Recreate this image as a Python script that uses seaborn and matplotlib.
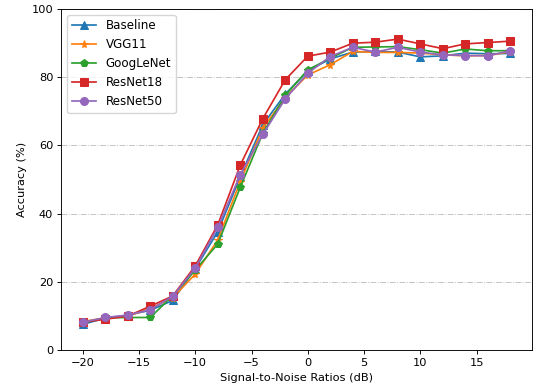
import matplotlib
matplotlib.use("Agg")
import matplotlib.pyplot as plt
import seaborn as sns
import pandas as pd

snr = [-20, -18, -16, -14, -12, -10, -8, -6, -4, -2, 0, 2, 4, 6, 8, 10, 12, 14, 16, 18]

baseline = [7.6, 9.4, 10.3, 11.7, 14.6, 23.9, 34.7, 50.8, 66.0, 75.0, 81.8, 85.3, 87.3, 87.5, 87.3, 85.9, 86.2, 87.0, 86.8, 86.9]
vgg11 = [8.4, 9.5, 10.0, 12.2, 15.4, 22.3, 32.3, 49.4, 65.0, 74.0, 80.6, 83.6, 87.5, 87.2, 87.2, 87.0, 86.5, 86.2, 86.3, 87.4]
googlenet = [8.0, 9.5, 9.6, 9.6, 16.0, 23.5, 31.1, 47.7, 63.5, 74.6, 82.1, 85.5, 88.7, 88.8, 88.9, 88.0, 87.0, 88.2, 87.7, 87.7]
resnet18 = [8.2, 9.1, 10.0, 12.9, 15.9, 24.7, 36.7, 54.2, 67.8, 79.2, 86.1, 87.3, 89.9, 90.2, 91.1, 89.7, 88.3, 89.7, 90.1, 90.5]
resnet50 = [8.2, 9.6, 10.3, 11.9, 15.8, 24.1, 36.0, 51.4, 63.2, 73.6, 81.1, 86.0, 88.7, 87.3, 88.7, 87.3, 86.5, 86.3, 86.2, 87.7]

models = ["Baseline", "VGG11", "GoogLeNet", "ResNet18", "ResNet50"]
series = [baseline, vgg11, googlenet, resnet18, resnet50]
markers = ["^", "*", "p", "s", "o"]
colors = ["#1f77b4", "#ff7f0e", "#2ca02c", "#d62728", "#9467bd"]

df = pd.DataFrame({
    "SNR": snr * len(models),
    "Accuracy": [v for s in series for v in s],
    "Model": [m for m in models for _ in snr],
})

k = 0.82
plt.rcParams.update({
    "font.size": 10 * k,
    "axes.linewidth": 0.8 * k,
    "xtick.major.size": 3.5 * k,
    "ytick.major.size": 3.5 * k,
    "xtick.major.width": 0.8 * k,
    "ytick.major.width": 0.8 * k,
    "xtick.major.pad": 3.5 * k,
    "ytick.major.pad": 3.5 * k,
    "axes.labelpad": 4.0 * k,
})

fig = plt.figure(figsize=(5.36, 3.92), dpi=100)
ax = fig.add_axes([0.1144, 0.1064, 0.8776, 0.8714])

for name, mk, col in zip(models, markers, colors):
    sub = df[df["Model"] == name]
    sns.lineplot(data=sub, x="SNR", y="Accuracy", ax=ax, label=name,
                 color=col, marker=mk, markersize=7 * k, markeredgecolor=col,
                 linewidth=1.5 * k)

ax.set_ylim(0, 100)
ax.set_xticks([-20, -15, -10, -5, 0, 5, 10, 15])
ax.set_yticks([0, 20, 40, 60, 80, 100])
ax.grid(axis="y", linestyle="-.", color="#b0b0b0", alpha=0.8, linewidth=0.8 * k)
ax.grid(axis="x", visible=False)
ax.set_xlabel("Signal-to-Noise Ratios (dB)")
ax.set_ylabel("Accuracy (%)")
ax.legend(loc="upper left", fontsize=8.6)

fig.savefig("out.png", dpi=100)
